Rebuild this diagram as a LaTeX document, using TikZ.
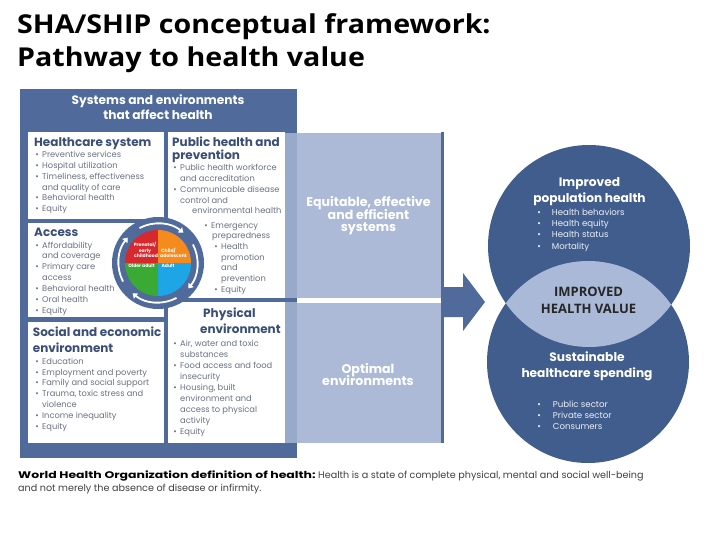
\documentclass[tikz,border=0pt]{standalone}
\usepackage{fontspec}
\setmainfont{Poppins}
\newfontfamily\ttl{Open Sans}
\usetikzlibrary{arrows.meta}
\definecolor{pframe}{RGB}{79,106,155}
\definecolor{pcirc}{RGB}{64,93,141}
\definecolor{plight}{RGB}{172,186,215}
\definecolor{pstripe}{RGB}{152,169,201}
\definecolor{plens}{RGB}{170,185,215}
\definecolor{phead}{RGB}{59,78,120}
\definecolor{pbody}{RGB}{105,114,132}
\definecolor{pred}{RGB}{214,40,45}
\definecolor{porange}{RGB}{245,138,31}
\definecolor{pgreen}{RGB}{58,170,53}
\definecolor{psky}{RGB}{30,165,229}
\newcommand\bu{\llap{\textbullet\hspace{3.5pt}}}
\begin{document}
\begin{tikzpicture}[x=1pt,y=-1pt,
  body/.style={font=\fontsize{8.3}{9}\selectfont, text=pbody, anchor=base west, inner sep=0pt},
  bodyw/.style={font=\fontsize{8.6}{9}\selectfont, text=white!90!pcirc, anchor=base west, inner sep=0pt},
  hd/.style={font=\bfseries\fontsize{12}{12}\selectfont, text=phead, anchor=base west, inner sep=0pt},
  wb/.style={font=\bfseries\fontsize{12.6}{13}\selectfont, text=white, anchor=base, inner sep=0pt},
  cb/.style={font=\bfseries\fontsize{12.2}{12}\selectfont, text=white, anchor=base, inner sep=0pt},
  lv/.style={font=\ttl\bfseries\fontsize{13}{13}\selectfont, text=black!85, anchor=base, inner sep=0pt},
  pie/.style={font=\bfseries\fontsize{4.6}{5}\selectfont, text=white, anchor=base, inner sep=0pt},
  tt/.style={font=\ttl\bfseries\fontsize{26}{26}\selectfont, anchor=base west, inner sep=0pt},
  arr/.style={white, line width=1.8pt, -{Triangle[length=4.5pt,width=6.5pt]}}]
\useasboundingbox (0,0) rectangle (720,540);
\fill[white] (0,0) rectangle (720,540);
% title
\node[tt] (t1) at (17,33.5) {\scalebox{1.1}[1]{SHA/SHIP conceptual framework:}};
\node[tt] (t2) at (17,66.5) {\scalebox{1.1}[1]{Pathway to health value}};
% left panel
\fill[pframe] (20,89) rectangle (297,458);
\fill[white] (28,132) rectangle (164,219);
\fill[white] (28,223) rectangle (164,317);
\fill[white] (28,322) rectangle (164,443);
\fill[white] (168,132) rectangle (285,298);
\fill[white] (168,302) rectangle (285,443);
\fill[pstripe] (285,133) rectangle (297,298);
\fill[pstripe] (285,302) rectangle (297,443);
% middle
\fill[plight] (297,133) rectangle (441,298);
\fill[plight] (297,303) rectangle (441,443);
\fill[pframe] (441,132) rectangle (444,443);
\fill[pframe] (444,287) -- (463,287) -- (463,273) -- (485,302) -- (463,331) -- (463,317) -- (444,317) -- cycle;
% circles
\fill[pcirc] (589,246) circle[radius=101pt];
\fill[pcirc] (588,362) circle[radius=101pt];
\begin{scope}
  \clip (589,246) circle[radius=101pt];
  \fill[plens] (588,362) circle[radius=101pt];
\end{scope}
% header
\node[font=\bfseries\fontsize{12.2}{12}\selectfont, text=white, anchor=base, inner sep=0pt] (h1) at (158,105) {Systems and environments};
\node[font=\bfseries\fontsize{12.2}{12}\selectfont, text=white, anchor=base, inner sep=0pt] (h2) at (158,120) {that affect health};
% healthcare system
\node[hd] (hct) at (34,146.7) {Healthcare system};
\foreach \t [count=\i] in {\bu Preventive services, \bu Hospital utilization, {\bu Timeliness, effectiveness}, and quality of care, \bu Behavioral health, \bu Equity}
  \node[body] (hc\i) at (42,157.7+10.8*\i-10.8) {\t};
% access
\node[hd] (act) at (34,236.7) {Access};
\foreach \y/\t [count=\i] in {248/\bu Affordability, 258.5/and coverage, 269.5/\bu Primary care, 280/access, 291.5/\bu Behavioral health, 302.5/\bu Oral health, 313/\bu Equity}
  \node[body] (ac\i) at (42,\y) {\t};
% social
\node[hd] (sot1) at (32.7,336.7) {Social and economic};
\node[hd] (sot2) at (32.7,352.7) {environment};
\foreach \y/\t [count=\i] in {364/\bu Education, 375/\bu Employment and poverty, 385.5/\bu Family and social support, 396.5/{\bu Trauma, toxic stress and}, 407/violence, 418/\bu Income inequality, 429/\bu Equity}
  \node[body] (so\i) at (42,\y) {\t};
% public health
\node[hd] (pht1) at (172,146.7) {Public health and};
\node[hd] (pht2) at (172,160) {prevention};
\foreach \x/\y/\t [count=\i] in {180/171/\bu Public health workforce, 180/181.7/and accreditation, 180/192.4/\bu Communicable disease, 180/203.1/control and, 192/213.8/environmental health, 211/228.3/\bu Emergency, 212/238.6/preparedness, 221/249.3/\bu Health, 221/260/promotion, 221/270.7/and, 221/281.4/prevention, 221/292.5/\bu Equity}
  \node[body] (ph\i) at (\x,\y) {\t};
% physical environment
\node[hd] (pet1) at (203,317) {Physical};
\node[hd] (pet2) at (200,333.5) {environment};
\foreach \y/\t [count=\i] in {346.7/{\bu Air, water and toxic}, 357.3/substances, 368/\bu Food access and food, 379/insecurity, 390/{\bu Housing, built}, 401/environment and, 412/access to physical, 423/activity, 434/\bu Equity}
  \node[body] (pe\i) at (180,\y) {\t};
% life-course ring
\begin{scope}[shift={(158,263)}, yscale=-1]
  \fill[pframe] (0,0) circle[radius=46pt];
  \fill[pred] (0,0) -- (90:33) arc[start angle=90, end angle=180, radius=33] -- cycle;
  \fill[porange] (0,0) -- (0:33) arc[start angle=0, end angle=90, radius=33] -- cycle;
  \fill[pgreen] (0,0) -- (180:33) arc[start angle=180, end angle=270, radius=33] -- cycle;
  \fill[psky] (0,0) -- (270:33) arc[start angle=270, end angle=360, radius=33] -- cycle;
  \draw[arr] (118:39.5) arc[start angle=118, end angle=50, radius=39.5];
  \draw[arr] (28:39.5) arc[start angle=28, end angle=-40, radius=39.5];
  \draw[arr] (-62:39.5) arc[start angle=-62, end angle=-130, radius=39.5];
  \draw[arr] (-152:39.5) arc[start angle=-152, end angle=-220, radius=39.5];
\end{scope}
\node[pie] (p1) at (145,246.5) {Prenatal/};
\node[pie] (p2) at (145,252.3) {early};
\node[pie] (p3) at (146,258) {childhood};
\node[pie] (p4) at (168.5,252.3) {Child/};
\node[pie] (p5) at (173.5,258) {adolescent};
\node[pie] (p6) at (141.5,267) {Older adult};
\node[pie] (p7) at (168,267) {Adult};
% middle texts
\node[wb] (m1) at (368.5,207) {Equitable, effective};
\node[wb] (m2) at (368.5,219.5) {and efficient};
\node[wb] (m3) at (368.5,231.5) {systems};
\node[wb] (m4) at (368,373) {Optimal};
\node[wb] (m5) at (368,385.5) {environments};
% top circle
\node[cb] (c1) at (589.5,186.7) {Improved};
\node[cb] (c2) at (589.5,203) {population health};
\foreach \y/\t [count=\i] in {215.7/Health behaviors, 226.7/Health equity, 237.7/Health status, 249/Mortality}
  \node[bodyw] (cp\i) at (551.7,\y) {\llap{\textbullet\hspace{11pt}}\t};
% lens
\node[lv] (v1) at (588.5,296.7) {IMPROVED};
\node[lv] (v2) at (588.5,313) {HEALTH VALUE};
% bottom circle
\node[cb] (s1) at (587,361) {Sustainable};
\node[cb] (s2) at (587,377.5) {healthcare spending};
\foreach \y/\t [count=\i] in {407/Public sector, 418/Private sector, 429/Consumers}
  \node[bodyw] (cs\i) at (552.7,\y) {\llap{\textbullet\hspace{12pt}}\t};
% WHO definition
\node[font=\fontsize{9.6}{9}\selectfont, text=black!75, anchor=base west, inner sep=0pt] (w1) at (18,478) {\scalebox{1.3}[1]{\textbf{\color{black}World Health Organization definition of health:}} Health is a state of complete physical, mental and social well-being};
\node[font=\fontsize{9.6}{9}\selectfont, text=black!75, anchor=base west, inner sep=0pt] (w2) at (18,491) {and not merely the absence of disease or infirmity.};
\end{tikzpicture}
\end{document}
